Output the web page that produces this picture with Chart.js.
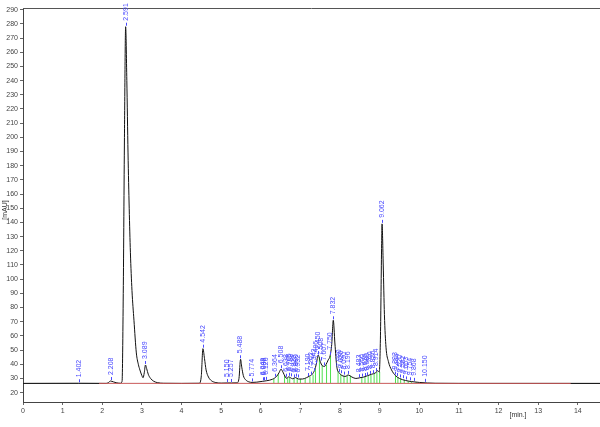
<!DOCTYPE html>
<html>
<head>
<meta charset="utf-8">
<script src="https://cdn.jsdelivr.net/npm/chart.js@4.4.0/dist/chart.umd.min.js"></script>
<style>
  html, body { margin: 0; padding: 0; background: #fff; }
  #wrap { width: 600px; height: 427px; }
</style>
</head>
<body>
<div id="wrap"><canvas id="chrom"></canvas></div>
<script>
// detector trace (min, mAU)
const traceTimes = [0, 1.40, 2.10, 2.15, 2.21, 2.28, 2.35, 2.45, 2.50, 2.53, 2.56, 2.59, 2.62, 2.65, 2.68, 2.71, 2.75, 2.80, 2.86, 2.91, 2.95, 3.00, 3.03, 3.06, 3.09, 3.12, 3.16, 3.22, 3.30, 3.40, 3.55, 4.00, 4.45, 4.50, 4.54, 4.58, 4.62, 4.68, 4.75, 4.85, 5.00, 5.15, 5.26, 5.40, 5.45, 5.49, 5.52, 5.56, 5.62, 5.70, 5.78, 5.90, 6.05, 6.15, 6.30, 6.40, 6.46, 6.51, 6.56, 6.62, 6.66, 6.70, 6.75, 6.80, 6.88, 6.95, 7.05, 7.15, 7.22, 7.30, 7.36, 7.40, 7.45, 7.50, 7.55, 7.61, 7.65, 7.70, 7.75, 7.79, 7.83, 7.87, 7.92, 7.98, 8.05, 8.15, 8.20, 8.30, 8.40, 8.50, 8.60, 8.70, 8.80, 8.90, 8.95, 8.99, 9.02, 9.05, 9.06, 9.09, 9.12, 9.16, 9.22, 9.30, 9.40, 9.50, 9.65, 9.80, 10.0, 10.2, 10.4, 11.0, 14.56];
const traceValues = [26.5, 26.6, 26.5, 27.0, 28.2, 27.6, 27.0, 26.6, 28, 90, 200, 278, 240, 189, 150, 119, 92, 71, 48, 40, 36, 32, 30.5, 34, 39.5, 37, 33, 30, 28, 27, 26.6, 26.5, 26.6, 32, 51, 44, 36, 31, 28.5, 27.2, 26.7, 26.8, 26.8, 26.9, 30, 43.5, 38, 32, 29, 27.6, 27.2, 27.4, 28, 28.4, 29.5, 31.5, 34, 36.5, 34.5, 31, 30, 31.2, 30.5, 29.8, 30.6, 29.6, 29.6, 30.5, 31.5, 33, 36, 40, 46.5, 42, 39, 38.5, 40, 43, 46, 54, 71, 55, 38, 34, 32, 31.5, 32.5, 31, 30, 30.5, 31, 32, 33, 34, 35.5, 34.5, 60, 125, 139, 110, 75, 52, 42, 36, 32, 30, 28.6, 27.8, 27.2, 26.8, 26.6, 26.5, 26.5];

const baselineLevel = 26.5;
const xMin = 0, xMax = 14.56;
const redRange = [1.92, 13.82];

// integrated peaks: retention time and apex height
const peakTimes = [1.402, 2.208, 2.591, 3.089, 4.542, 5.150, 5.257, 5.488, 5.774, 6.048, 6.088, 6.120, 6.364, 6.508, 6.638, 6.705, 6.768, 6.829, 6.880, 6.932, 7.190, 7.262, 7.342, 7.406, 7.450, 7.508, 7.607, 7.750, 7.832, 7.980, 8.020, 8.090, 8.196, 8.483, 8.560, 8.620, 8.680, 8.760, 8.820, 8.914, 9.062, 9.393, 9.444, 9.520, 9.582, 9.663, 9.754, 9.868, 10.150];
const peakHeights = [26.6, 28.2, 278, 39.5, 51, 26.8, 26.8, 43.5, 27.2, 28, 28.1, 28.3, 30.5, 36.5, 30.5, 31.2, 30.8, 30, 30.6, 30, 31, 32, 34.5, 40, 46.5, 42, 38.5, 46, 71, 34, 33, 32, 32.5, 30.2, 30.6, 31, 31.5, 32.5, 33, 34.5, 139, 32, 31, 30, 29.5, 28.6, 28, 27.6, 26.9];

// peak start/end markers (green drop lines)
const dropTimes = [6.33, 6.44, 6.60, 6.68, 6.73, 6.84, 6.92, 7.00, 7.12, 7.24, 7.32, 7.38, 7.48, 7.55, 7.66, 7.76, 7.95, 8.02, 8.10, 8.18, 8.26, 8.55, 8.63, 8.71, 8.78, 8.86, 8.93, 9.00, 9.40, 9.46, 9.53, 9.62, 9.72, 9.80, 9.92];
const dropTops = [29.8, 33, 32, 30.2, 30.8, 29.9, 30.3, 29.6, 30, 31.2, 32.6, 36.5, 45, 39, 39.5, 46, 35, 33, 31.8, 31.8, 32, 30.7, 31.1, 31.7, 32.4, 33.2, 34.5, 34.6, 32, 31, 29.8, 29, 28.3, 27.8, 27.4];

const xTicks = [0, 1, 2, 3, 4, 5, 6, 7, 8, 9, 10, 11, 12, 13, 14];
const yTicks = [20, 30, 40, 50, 60, 70, 80, 90, 100, 110, 120, 130, 140, 150, 160, 170, 180, 190, 200, 210, 220, 230, 240, 250, 260, 270, 280, 290];

const tracePoints = traceTimes.map((t, i) => ({ x: t, y: traceValues[i] }));
const dropPoints = [];
dropTimes.forEach((t, i) => {
  dropPoints.push({ x: t, y: baselineLevel }, { x: t, y: dropTops[i] }, { x: t, y: null });
});

const tickFont = { family: 'Liberation Sans, Arial, sans-serif', size: 7 };
const blue = '#4a4aff';

const overlay = {
  id: 'overlay',
  afterDatasetsDraw(chart) {
    const { ctx, chartArea, scales } = chart;
    ctx.save();
    // frame top
    ctx.strokeStyle = '#555';
    ctx.lineWidth = 1;
    ctx.beginPath();
    ctx.moveTo(chartArea.left, chartArea.top + 0.5);
    ctx.lineTo(chartArea.right, chartArea.top + 0.5);
    ctx.stroke();

    // peak markers and labels
    ctx.strokeStyle = blue;
    ctx.fillStyle = blue;
    ctx.font = '7px "Liberation Sans", Arial, sans-serif';
    ctx.textAlign = 'left';
    ctx.textBaseline = 'middle';
    peakTimes.forEach((t, i) => {
      const px = Math.round(scales.x.getPixelForValue(t)) + 0.5;
      const py = scales.y.getPixelForValue(peakHeights[i]);
      ctx.beginPath();
      ctx.moveTo(px, py - 1);
      ctx.lineTo(px, py - 4);
      ctx.stroke();
      ctx.save();
      ctx.translate(px, py - 6);
      ctx.rotate(-Math.PI / 2);
      ctx.fillText(t.toFixed(3), 0, 0);
      ctx.restore();
    });

    // axis units
    ctx.fillStyle = '#333';
    ctx.font = '7px "Liberation Sans", Arial, sans-serif';
    ctx.textAlign = 'center';
    ctx.fillText('[min.]', 518, 415);
    ctx.save();
    ctx.translate(5, 210);
    ctx.rotate(-Math.PI / 2);
    ctx.fillText('[mAU]', 0, 0);
    ctx.restore();
    ctx.restore();
  }
};

new Chart(document.getElementById('chrom'), {
  type: 'scatter',
  data: {
    datasets: [
      {
        data: tracePoints,
        showLine: true,
        borderColor: '#111',
        borderWidth: 1,
        pointRadius: 0,
        cubicInterpolationMode: 'monotone',
        order: 1
      },
      {
        data: [{ x: redRange[0], y: baselineLevel }, { x: redRange[1], y: baselineLevel }],
        showLine: true,
        borderColor: 'rgba(232, 100, 100, 0.8)',
        borderWidth: 1,
        pointRadius: 0,
        order: 0
      },
      {
        data: [{ x: xMin, y: baselineLevel }, { x: xMax, y: baselineLevel }],
        showLine: true,
        borderColor: '#888',
        borderWidth: 1,
        pointRadius: 0,
        order: 3
      },
      {
        data: dropPoints,
        showLine: true,
        spanGaps: false,
        borderColor: '#4fe04f',
        borderWidth: 1,
        pointRadius: 0,
        order: 2
      }
    ]
  },
  options: {
    responsive: true,
    maintainAspectRatio: false,
    animation: false,
    layout: { padding: { top: 8, right: 0, left: 0, bottom: 0 } },
    plugins: {
      legend: { display: false },
      tooltip: { enabled: false }
    },
    scales: {
      x: {
        type: 'linear',
        min: xMin,
        max: xMax,
        afterBuildTicks: s => { s.ticks = xTicks.map(v => ({ value: v })); },
        afterFit: s => { s.height = 25; },
        ticks: { font: tickFont, color: '#444', padding: 2, maxRotation: 0, autoSkip: false },
        grid: { drawOnChartArea: false, drawTicks: true, tickLength: 3, color: '#666' },
        border: { display: true, color: '#444' }
      },
      y: {
        type: 'linear',
        min: 13.4,
        max: 291.2,
        afterBuildTicks: s => { s.ticks = yTicks.map(v => ({ value: v })); },
        afterFit: s => { s.width = 23; },
        ticks: { font: tickFont, color: '#444', padding: 2, autoSkip: false },
        grid: { drawOnChartArea: false, drawTicks: true, tickLength: 3, color: '#666' },
        border: { display: true, color: '#444' }
      }
    }
  },
  plugins: [overlay]
});
</script>
</body>
</html>
